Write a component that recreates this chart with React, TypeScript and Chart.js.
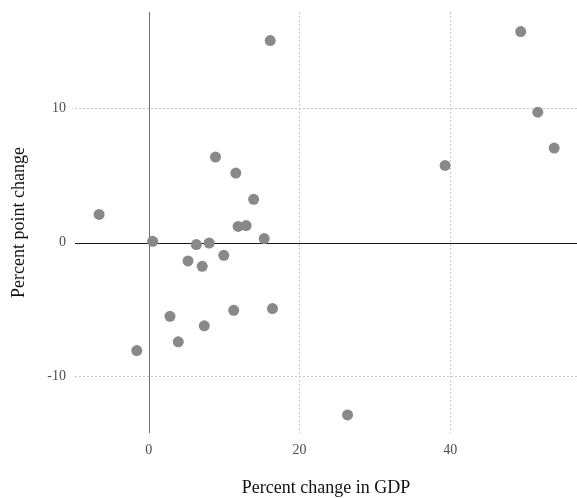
import React, { useEffect, useRef } from "react";
import { Chart, registerables } from "chart.js";

Chart.register(...registerables);

const gdpChange: number[] = [
  -6.6, 0.5, -1.6, 2.8, 3.9, 8.84, 11.53, 13.9, 11.84, 12.9, 15.3, 6.3, 8.0,
  9.94, 5.19, 7.08, 11.26, 16.4, 7.35, 16.1, 49.33, 51.6, 53.77, 39.3, 26.36,
];
const pointChange: number[] = [
  2.1, 0.1, -8.05, -5.5, -7.4, 6.38, 5.19, 3.23, 1.21, 1.27, 0.3, -0.15, -0.03,
  -0.95, -1.37, -1.77, -5.05, -4.92, -6.21, 15.07, 15.74, 9.73, 7.05, 5.76,
  -12.85,
];
const xTicks: number[] = [0, 20, 40];
const yTicks: number[] = [-10, 0, 10];
const xTitle = "Percent change in GDP";
const yTitle = "Percent point change";

const SERIF = "'Liberation Serif', 'DejaVu Serif', serif";

const zeroLines = {
  id: "zeroLines",
  beforeDatasetsDraw(chart: any) {
    const { ctx, chartArea, scales } = chart;
    const x0 = scales.x.getPixelForValue(0);
    const y0 = scales.y.getPixelForValue(0);
    ctx.save();
    ctx.lineWidth = 1;
    ctx.strokeStyle = "#6e6e6e";
    ctx.beginPath();
    ctx.moveTo(Math.round(x0) + 0.5, chartArea.top);
    ctx.lineTo(Math.round(x0) + 0.5, chartArea.bottom);
    ctx.stroke();
    ctx.strokeStyle = "#1a1a1a";
    ctx.beginPath();
    ctx.moveTo(chartArea.left, Math.round(y0) + 0.5);
    ctx.lineTo(chartArea.right, Math.round(y0) + 0.5);
    ctx.stroke();
    ctx.restore();
  },
};

export default function App() {
  const ref = useRef<HTMLCanvasElement | null>(null);
  useEffect(() => {
    document.body.style.margin = "0";
    const canvas = ref.current;
    if (!canvas) return;
    const data = gdpChange.map((x, i) => ({ x, y: pointChange[i] }));
    const chart = new Chart(canvas, {
      type: "scatter",
      data: {
        datasets: [
          {
            data,
            backgroundColor: "rgb(137,137,137)",
            borderColor: "rgb(137,137,137)",
            borderWidth: 0,
            pointRadius: 5.5,
            clip: false,
          },
        ],
      },
      options: {
        animation: false,
        responsive: false,
        maintainAspectRatio: false,
        layout: {
          autoPadding: false,
          padding: { top: 12, right: 0, left: 0, bottom: 0 },
        },
        plugins: {
          legend: { display: false },
          tooltip: { enabled: false },
        },
        scales: {
          x: {
            type: "linear",
            min: -9.8,
            max: 56.8,
            afterBuildTicks: (scale: any) => {
              scale.ticks = xTicks.map((v) => ({ value: v }));
            },
            afterFit: (scale: any) => {
              scale.height = 65;
              scale.paddingLeft = 0;
              scale.paddingRight = 0;
              scale.paddingTop = 0;
              scale.paddingBottom = 0;
            },
            border: { display: false, dash: [2, 2] },
            grid: {
              color: (c: any) =>
                c.tick && c.tick.value === 0 ? "rgba(0,0,0,0)" : "#c8c8c8",
              drawTicks: false,
              lineWidth: 1,
            },
            ticks: {
              padding: 9,
              color: "#4d4d4d",
              font: { family: SERIF, size: 14 },
              callback: (v: any) => String(v),
            },
            title: {
              display: true,
              text: xTitle,
              color: "#111111",
              font: { family: SERIF, size: 18 },
              padding: { top: 0, bottom: -1 },
            },
          },
          y: {
            type: "linear",
            min: -14.2,
            max: 17.2,
            afterBuildTicks: (scale: any) => {
              scale.ticks = yTicks.map((v) => ({ value: v }));
            },
            afterFit: (scale: any) => {
              scale.width = 75;
              scale.paddingLeft = 0;
              scale.paddingRight = 0;
              scale.paddingTop = 0;
              scale.paddingBottom = 0;
            },
            border: { display: false, dash: [2, 2] },
            grid: {
              color: (c: any) =>
                c.tick && c.tick.value === 0 ? "rgba(0,0,0,0)" : "#c8c8c8",
              drawTicks: false,
              lineWidth: 1,
            },
            ticks: {
              padding: 9,
              color: "#4d4d4d",
              font: { family: SERIF, size: 14 },
              callback: (v: any) => String(v),
            },
            title: {
              display: true,
              text: yTitle,
              color: "#111111",
              font: { family: SERIF, size: 18 },
              padding: { top: 8, bottom: 0 },
            },
          },
        },
      },
      plugins: [zeroLines],
    });
    return () => chart.destroy();
  }, []);
  return (
    <div style={{ width: 577, height: 498 }}>
      <canvas ref={ref} width={577} height={498} style={{ display: "block" }} />
    </div>
  );
}
